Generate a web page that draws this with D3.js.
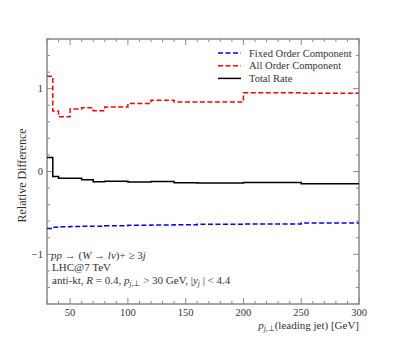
<!DOCTYPE html>
<html>
<head>
<meta charset="utf-8">
<script src="https://cdn.jsdelivr.net/npm/d3@7"></script>
<style>
  body { margin: 0; background: #fff; }
  svg text { font-family: "Liberation Serif", serif; fill: #333; }
</style>
</head>
<body>
<div id="chart"></div>
<script>
const width = 407;
const height = 343;
const margin = {top: 39, right: 48, bottom: 39, left: 47};

// bin edges in p_T(leading jet) [GeV]
const binEdges = [30, 35, 40, 50, 60, 70, 80, 100, 120, 140, 160, 200, 250, 300];
const fixedOrder = [-0.687, -0.672, -0.668, -0.665, -0.662, -0.660, -0.656, -0.650, -0.647, -0.644, -0.638, -0.634, -0.622];
const allOrder = [1.15, 0.73, 0.66, 0.755, 0.77, 0.735, 0.78, 0.82, 0.86, 0.84, 0.84, 0.95, 0.945];
const totalRate = [0.17, -0.06, -0.08, -0.08, -0.10, -0.125, -0.118, -0.128, -0.12, -0.136, -0.14, -0.133, -0.148];

const xTicks = [50, 100, 150, 200, 250, 300];
const yTicks = [-1, 0, 1];

const svg = d3.select("#chart")
    .append("svg")
    .attr("width", width)
    .attr("height", height);

const x = d3.scaleLinear().domain([30, 300]).range([margin.left, width - margin.right]);
const y = d3.scaleLinear().domain([-1.6, 1.6]).range([height - margin.bottom, margin.top]);

const frameColor = "#888";

// ticks on all four sides, pointing inward
const xMinor = d3.range(30, 301, 10);
const yMinor = d3.range(-1.6, 1.61, 0.2).map(v => Math.round(v * 10) / 10);

const tickG = svg.append("g").attr("stroke", frameColor).attr("stroke-width", 1);
xMinor.forEach(v => {
    const len = xTicks.includes(v) ? 6 : 3;
    tickG.append("line").attr("x1", x(v)).attr("x2", x(v))
        .attr("y1", y(-1.6)).attr("y2", y(-1.6) - len);
    tickG.append("line").attr("x1", x(v)).attr("x2", x(v))
        .attr("y1", y(1.6)).attr("y2", y(1.6) + len);
});
yMinor.forEach(v => {
    const len = yTicks.includes(v) ? 6 : 3;
    tickG.append("line").attr("y1", y(v)).attr("y2", y(v))
        .attr("x1", x(30)).attr("x2", x(30) + len);
    tickG.append("line").attr("y1", y(v)).attr("y2", y(v))
        .attr("x1", x(300)).attr("x2", x(300) - len);
});

// frame
svg.append("rect")
    .attr("x", x(30)).attr("y", y(1.6))
    .attr("width", x(300) - x(30)).attr("height", y(-1.6) - y(1.6))
    .attr("fill", "none")
    .attr("stroke", frameColor)
    .attr("stroke-width", 1.5);

// tick labels
svg.selectAll(".xlab").data(xTicks).enter().append("text")
    .attr("x", d => x(d)).attr("y", y(-1.6) + 12)
    .attr("text-anchor", "middle")
    .attr("font-size", 10.5)
    .text(d => d);

svg.selectAll(".ylab").data(yTicks).enter().append("text")
    .attr("x", x(30) - 4).attr("y", d => y(d) + 3.5)
    .attr("text-anchor", "end")
    .attr("font-size", 10.5)
    .text(d => d < 0 ? "\u2212" + Math.abs(d) : d);

// axis titles
svg.append("text")
    .attr("transform", `translate(26, ${y(0) + 4}) rotate(-90)`)
    .attr("text-anchor", "middle")
    .attr("font-size", 12)
    .text("Relative Difference");

const xt = svg.append("text")
    .attr("x", x(300)).attr("y", y(-1.6) + 25)
    .attr("text-anchor", "end")
    .attr("font-size", 11);
xt.append("tspan").attr("font-style", "italic").text("p");
xt.append("tspan").attr("font-size", 7.5).attr("font-style", "italic").attr("dy", 2).text("j,");
xt.append("tspan").attr("font-size", 7.5).text("\u22a5");
xt.append("tspan").attr("dy", -2).text("(leading jet) [GeV]");

// step lines
const stepLine = d3.line()
    .x(d => x(d[0]))
    .y(d => y(d[1]))
    .curve(d3.curveStepAfter);

const toSteps = vals => {
    const pts = vals.map((v, i) => [binEdges[i], v]);
    pts.push([binEdges[binEdges.length - 1], vals[vals.length - 1]]);
    return pts;
};

const series = [
    {name: "Fixed Order Component", values: fixedOrder, color: "#0000ff", dash: "5,2.5"},
    {name: "All Order Component", values: allOrder, color: "#ff0000", dash: "5,2.5"},
    {name: "Total Rate", values: totalRate, color: "#000", dash: null}
];

series.forEach(s => {
    svg.append("path")
        .attr("d", stepLine(toSteps(s.values)))
        .attr("fill", "none")
        .attr("stroke", s.color)
        .attr("stroke-width", 1.5)
        .attr("stroke-dasharray", s.dash);
});

// legend
const legend = svg.append("g");
series.forEach((s, i) => {
    const ly = 53 + i * 12.7;
    legend.append("line")
        .attr("x1", 218).attr("x2", 241)
        .attr("y1", ly).attr("y2", ly)
        .attr("stroke", s.color)
        .attr("stroke-width", 1.5)
        .attr("stroke-dasharray", s.dash);
    legend.append("text")
        .attr("x", 249).attr("y", ly + 3.6)
        .attr("font-size", 10.5)
        .text(s.name);
});

// process annotation
const ann = svg.append("g").attr("font-size", 11);
const l1 = ann.append("text").attr("x", 51).attr("y", 258.5);
l1.append("tspan").attr("font-style", "italic").text("pp");
l1.append("tspan").text(" \u2192 (");
l1.append("tspan").attr("font-style", "italic").text("W");
l1.append("tspan").text(" \u2192 ");
l1.append("tspan").attr("font-style", "italic").text("l\u03bd");
l1.append("tspan").text(")+ \u2265 3");
l1.append("tspan").attr("font-style", "italic").text("j");

ann.append("text").attr("x", 52).attr("y", 271).text("LHC@7 TeV");

const l3 = ann.append("text").attr("x", 52).attr("y", 283.5);
l3.append("tspan").text("anti-kt, ");
l3.append("tspan").attr("font-style", "italic").text("R");
l3.append("tspan").text(" = 0.4, ");
l3.append("tspan").attr("font-style", "italic").text("p");
l3.append("tspan").attr("font-size", 7.5).attr("font-style", "italic").attr("dy", 2).text("j,");
l3.append("tspan").attr("font-size", 7.5).text("\u22a5");
l3.append("tspan").attr("dy", -2).text(" > 30 GeV, |");
l3.append("tspan").attr("font-style", "italic").text("y");
l3.append("tspan").attr("font-size", 7.5).attr("font-style", "italic").attr("dy", 2).text("j");
l3.append("tspan").attr("dy", -2).text(" | < 4.4");
</script>
</body>
</html>
